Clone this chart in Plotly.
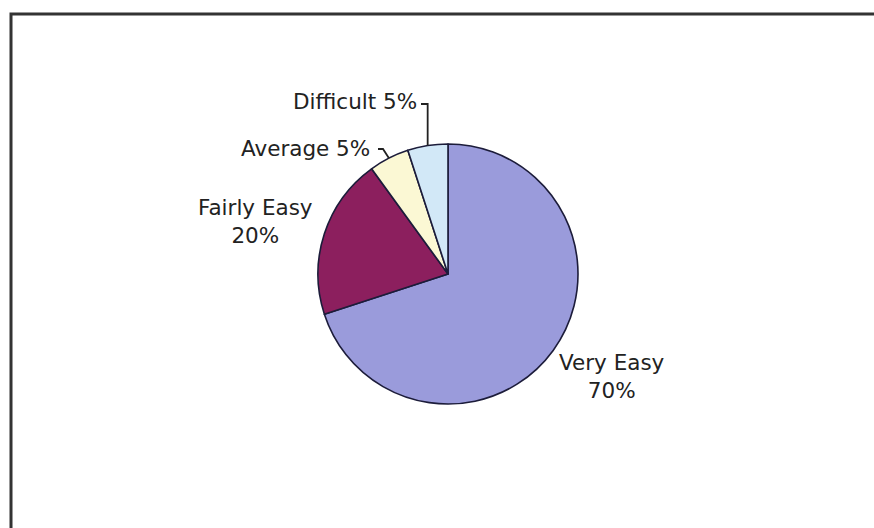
import math
import plotly.graph_objects as go

# Survey answers: how easy was it?
labels = ["Very Easy", "Fairly Easy", "Average", "Difficult"]
values = [70, 20, 5, 5]
colors = ["#9a9bdb", "#8c1f5e", "#fbf8d4", "#d2e8f7"]

W, H = 874, 528
CX, CY, R = 448, 274, 130  # pie centre and radius, in pixels


def px(x, y):
    """Pixel position (origin top-left) -> paper coordinates."""
    return x / W, 1 - y / H


def edge_point(index):
    """Point on the rim at the middle of slice `index` (clockwise from 12 o'clock)."""
    total = sum(values)
    start = sum(values[:index]) / total
    mid = (start + values[index] / total / 2) * 2 * math.pi
    return CX + R * math.sin(mid), CY - R * math.cos(mid)


fig = go.Figure()
fig.add_trace(go.Pie(
    labels=labels,
    values=values,
    sort=False,
    direction="clockwise",
    rotation=0,
    marker=dict(colors=colors, line=dict(color="#1c1c3a", width=1.6)),
    textinfo="none",
    hoverinfo="label+percent",
    showlegend=False,
    domain=dict(x=[(CX - R) / W, (CX + R) / W],
                y=[(H - CY - R) / H, (H - CY + R) / H]),
))

font = dict(family="DejaVu Sans", size=21.5, color="#222222")
pct = [f"{v}%" for v in values]

# label text positions (pixel centres)
label_pos = {
    0: (612, 376, f"{labels[0]}<br>{pct[0]}"),
    1: (255, 222, f"{labels[1]}<br>{pct[1]}"),
    2: (305, 148, f"{labels[2]} {pct[2]}"),
    3: (355, 102, f"{labels[3]} {pct[3]}"),
}
annotations = []
for i, (x, y, txt) in label_pos.items():
    ax, ay = px(x, y)
    annotations.append(dict(x=ax, y=ay, xref="paper", yref="paper", text=txt,
                            showarrow=False, font=font, align="center",
                            xanchor="center", yanchor="middle"))

shapes = []
# leader lines for the two small slices
ex, ey = edge_point(3)
pts = [(421, 104), (ex, 104), (ex, ey)]
path = "M " + " L ".join(f"{px(a, b)[0]} {px(a, b)[1]}" for a, b in pts)
shapes.append(dict(type="path", path=path, xref="paper", yref="paper",
                   line=dict(color="#222222", width=1.8)))
ex, ey = edge_point(2)
pts = [(378, 149), (383, 149), (ex, ey)]
path = "M " + " L ".join(f"{px(a, b)[0]} {px(a, b)[1]}" for a, b in pts)
shapes.append(dict(type="path", path=path, xref="paper", yref="paper",
                   line=dict(color="#222222", width=1.8)))

# chart-area frame
fx0, fy1 = px(11, 14)
shapes.append(dict(type="rect", xref="paper", yref="paper",
                   x0=fx0, x1=1.05, y0=-0.05, y1=fy1,
                   line=dict(color="#333333", width=3)))

fig.update_layout(
    width=W, height=H,
    margin=dict(l=0, r=0, t=0, b=0),
    paper_bgcolor="white",
    plot_bgcolor="white",
    annotations=annotations,
    shapes=shapes,
)

fig.write_html("out.html")
